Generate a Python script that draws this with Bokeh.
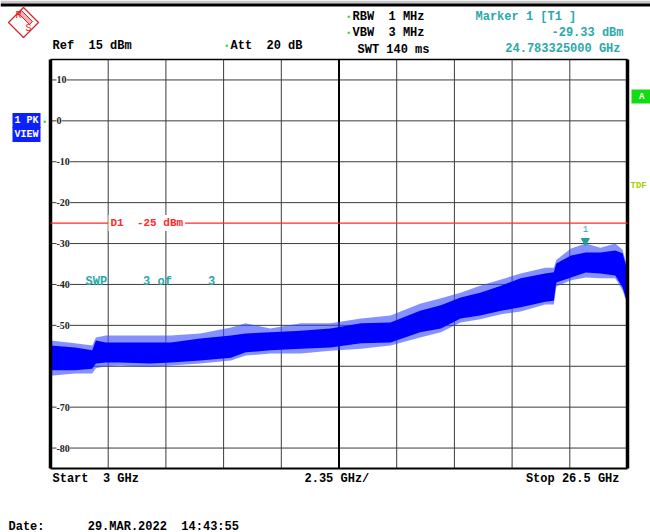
from bokeh.plotting import figure
from bokeh.models import (Range1d, Label, LabelSet, ColumnDataSource)
from bokeh.embed import file_html
from bokeh.resources import INLINE

# ---------------- data ----------------
start_ghz = 3.0
stop_ghz = 26.5
ghz_per_div = 2.35
n_div = 10
ref_dbm = 15
bottom_dbm = -85
level_ticks = [10, 0, -10, -20, -30, -40, -50, -60, -70, -80]
level_tick_labels = ["10", "0", "-10", "-20", "-30", "-40", "-50", "-60", "-70", "-80"]
d1_dbm = -25
marker_ghz = 24.783325
marker_dbm = -29.33

freq_ghz = [3.0, 4.0, 4.7, 4.85, 5.25, 5.85, 7.05, 7.9, 9.1, 10.35, 10.95, 11.95,
            13.2, 14.4, 15.65, 16.85, 18.05, 18.9, 19.7, 20.5, 21.35, 22.15, 23.15,
            23.5, 23.6, 24.2, 24.8, 25.4, 26.0, 26.3, 26.5]
core_top = [-54.9, -55.4, -56.1, -53.7, -54.2, -54.2, -54.2, -54.2, -53.2, -52.5, -52.0, -51.7,
            -51.3, -50.8, -49.5, -49.3, -46.4, -45.1, -43.2, -42.0, -40.3, -38.5, -37.3,
            -37.0, -34.9, -32.9, -32.2, -32.2, -31.7, -32.4, -36.6]
core_bottom = [-61.0, -61.0, -60.6, -59.3, -59.1, -59.1, -59.3, -59.1, -58.6, -57.9, -56.6, -56.1,
               -55.7, -55.4, -54.4, -54.2, -51.7, -50.8, -48.3, -47.6, -46.4, -45.6, -44.2,
               -44.0, -39.5, -38.3, -37.1, -37.3, -37.8, -40.7, -44.7]
peak_top = [-53.7, -54.4, -54.9, -53.0, -52.5, -52.5, -52.5, -52.5, -52.0, -50.5, -49.5, -50.8,
            -49.5, -49.5, -48.3, -47.6, -44.7, -43.4, -42.0, -40.3, -38.8, -37.3, -35.9,
            -35.9, -34.0, -31.2, -30.0, -31.0, -30.0, -31.5, -36.0]
peak_bottom = [-62.3, -61.8, -61.8, -60.5, -60.0, -59.8, -60.2, -59.8, -59.3, -58.6, -57.4, -56.9,
               -56.9, -56.2, -55.7, -54.9, -53.0, -51.7, -49.3, -48.5, -47.3, -46.6, -44.9,
               -44.9, -40.5, -39.0, -38.3, -38.5, -38.5, -41.5, -45.0]

# ---------------- layout helpers (page pixels -> data) ----------------
W, H = 650, 532
FX0, FX1, FY0, FY1 = 50, 627, 59, 468


def X(px):
    return start_ghz + (px - FX0) * (stop_ghz - start_ghz) / (FX1 - FX0)


def Y(py):
    return ref_dbm - (py - FY0) * (ref_dbm - bottom_dbm) / (FY1 - FY0)


FONT = "Liberation Mono"
TEAL = "#2aa9a9"
RED = "#ff2a2a"
LOGO = "#dd2222"
BLUE = "#0000ff"
NB = "\u00a0"

p = figure(width=W, height=H, min_border=0,
           x_range=Range1d(X(0), X(W)), y_range=Range1d(Y(H), Y(0)),
           x_axis_location=None, y_axis_location=None,
           output_backend="svg", toolbar_location=None,
           background_fill_color="white", border_fill_color="white")
p.grid.visible = False
p.outline_line_color = None

# top rule of the screen
p.quad(left=[X(0), X(0)], right=[X(W), X(W)], top=[Y(0), Y(3)], bottom=[Y(3), Y(6)],
       fill_color=["#c8c8c8", "black"], line_alpha=0, level="image")

# graticule
vticks = [start_ghz + i * ghz_per_div for i in range(1, n_div)]
p.segment(x0=vticks, x1=vticks, y0=[bottom_dbm] * len(vticks), y1=[ref_dbm] * len(vticks),
          line_color="#3c3c3c", line_width=1, level="image")
p.segment(x0=[start_ghz] * len(level_ticks), x1=[stop_ghz] * len(level_ticks),
          y0=level_ticks, y1=level_ticks, line_color="#3c3c3c", line_width=1, level="image")
center = start_ghz + n_div / 2 * ghz_per_div
p.segment(x0=[center], x1=[center], y0=[bottom_dbm], y1=[ref_dbm], line_color="black",
          line_width=2, level="image")

# y tick labels inside the frame (under the trace)
ysrc = ColumnDataSource(dict(x=[X(56)] * len(level_ticks), y=level_ticks, text=level_tick_labels))
p.add_layout(LabelSet(x="x", y="y", text="text", source=ysrc, text_font=FONT,
                      text_font_size="10px", text_font_style="bold", text_color="#222222",
                      text_baseline="middle", background_fill_color="white", level="underlay"))

# trace
p.varea(x=freq_ghz, y1=peak_bottom, y2=peak_top, fill_color="#3347ff", fill_alpha=0.6)
p.varea(x=freq_ghz, y1=core_bottom, y2=core_top, fill_color=BLUE, fill_alpha=1.0)

# frame
p.segment(x0=[start_ghz, stop_ghz], x1=[start_ghz, stop_ghz], y0=[bottom_dbm] * 2, y1=[ref_dbm] * 2,
          line_color="black", line_width=3.5)
p.segment(x0=[start_ghz] * 2, x1=[stop_ghz] * 2, y0=[bottom_dbm, ref_dbm], y1=[bottom_dbm, ref_dbm],
          line_color="black", line_width=[2, 1.5])

# display line D1
p.segment(x0=[start_ghz], x1=[stop_ghz], y0=[d1_dbm], y1=[d1_dbm], line_color=RED, line_width=1.3)
p.add_layout(Label(x=X(108), y=d1_dbm, text=f"D1  {d1_dbm} dBm".replace(" ", NB), text_color=RED,
                   text_font=FONT, text_font_size="11px", text_font_style="bold",
                   text_baseline="middle", background_fill_color="white", padding=2))

# marker
p.scatter(x=[marker_ghz], y=[marker_dbm], marker="inverted_triangle", size=8,
          fill_color="#1f9c9c", line_color="#1f9c9c")
p.add_layout(Label(x=marker_ghz, y=Y(228), text="1", text_color=TEAL, text_font=FONT,
                   text_font_size="9px", text_align="center", text_baseline="middle"))


def txt(s, px, py, color="black", align="left", size="12px", bold=True, bg=None, pad=0):
    p.add_layout(Label(x=X(px), y=Y(py), text=s.replace(" ", NB), text_color=color, text_font=FONT,
                       text_font_size=size, text_font_style="bold" if bold else "normal",
                       text_align=align, text_baseline="middle",
                       background_fill_color=bg, padding=pad))


# R&S logo
p.patch(x=[X(8), X(23), X(38), X(23)], y=[Y(22), Y(7), Y(22), Y(37)],
        fill_alpha=0, line_color=LOGO, line_width=1.3)
p.patch(x=[X(18), X(29), X(32), X(21)], y=[Y(13), Y(24), Y(21), Y(10)],
        fill_color=LOGO, fill_alpha=0.35, line_color=LOGO, line_width=1)
txt("R", 15, 15, color=LOGO, size="10px", bold=False)
txt("S", 25, 28, color=LOGO, size="10px", bold=False)

# header
txt("Ref  15 dBm", 52, 45)
txt("\u25aa", 224, 45, color="#22cc22", size="8px")
txt("Att  20 dB", 230, 45)
txt("\u25aa", 346, 16, color="#22cc22", size="8px")
txt("RBW  1 MHz", 352, 16)
txt("\u25aa", 346, 32, color="#22cc22", size="8px")
txt("VBW  3 MHz", 352, 32)
txt("SWT 140 ms", 357, 49)
txt("Marker 1 [T1 ]", 475, 16, color=TEAL)
txt(f"{marker_dbm:.2f} dBm", 623, 32, color=TEAL, align="right")
txt(f"{marker_ghz:.9f} GHz", 620, 48, color=TEAL, align="right")

# left / right side boxes
txt("1 PK", 12, 120, color="white", size="10px", bg="#0a20ff", pad=2)
txt("VIEW", 12, 134, color="white", size="10px", bg="#0a20ff", pad=2)
txt("\u25aa", 42, 121, color="#22cc22", size="8px")
txt(" A ", 631, 96, color="white", size="9px", bg="#11dd11", pad=2)
txt("TDF", 630, 185, color="#a8cc00", size="9px")

# sweep info
txt("SWP     3 of     3", 85, 281, color=TEAL)

# bottom
txt("Start  3 GHz", 52, 478)
txt(f"{ghz_per_div} GHz/", 304, 478)
txt("Stop 26.5 GHz", 619, 478, align="right")
txt("Date:      29.MAR.2022  14:43:55", 8, 526)

open("out.html", "w").write(file_html(p, INLINE))
